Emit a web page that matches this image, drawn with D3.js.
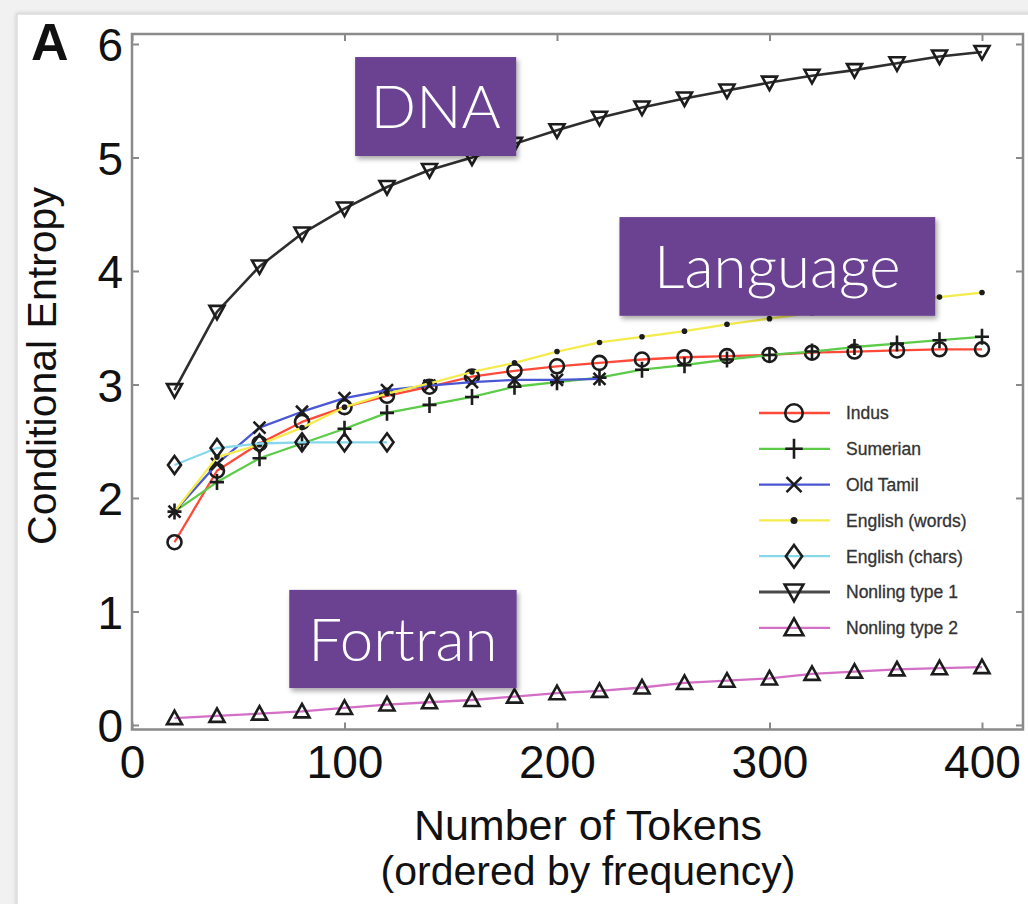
<!DOCTYPE html>
<html>
<head>
<meta charset="utf-8">
<script src="https://cdn.jsdelivr.net/npm/d3@7"></script>
<style>
  html, body { margin: 0; padding: 0; background: #f1f1f1; }
  svg { display: block; }
</style>
</head>
<body>
<svg id="chart" width="1028" height="904"></svg>
<script>
// Token counts along the x axis (ordered by frequency)
const tokens = [20, 40, 60, 80, 100, 120, 140, 160, 180, 200, 220, 240, 260, 280, 300, 320, 340, 360, 380, 400];

// Conditional entropy per series
const indus        = [1.61, 2.24, 2.48, 2.67, 2.80, 2.90, 2.98, 3.07, 3.12, 3.16, 3.19, 3.22, 3.24, 3.25, 3.26, 3.28, 3.29, 3.30, 3.31, 3.31];
const sumerian     = [1.88, 2.14, 2.35, 2.48, 2.61, 2.75, 2.82, 2.89, 2.98, 3.02, 3.06, 3.13, 3.17, 3.22, 3.26, 3.29, 3.33, 3.36, 3.39, 3.42];
const oldTamil     = [1.88, 2.30, 2.62, 2.76, 2.88, 2.95, 2.99, 3.02, 3.04, 3.04, 3.05];
const englishWords = [1.88, 2.36, 2.47, 2.62, 2.80, 2.92, 3.01, 3.11, 3.19, 3.29, 3.37, 3.42, 3.47, 3.53, 3.58, 3.63, 3.68, 3.73, 3.77, 3.81];
const englishChars = [2.29, 2.44, 2.48, 2.49, 2.49, 2.49];
const nonling1     = [2.95, 3.64, 4.04, 4.33, 4.55, 4.74, 4.89, 5.00, 5.12, 5.24, 5.35, 5.44, 5.52, 5.59, 5.66, 5.72, 5.77, 5.83, 5.89, 5.93];
const nonling2     = [0.06, 0.08, 0.10, 0.12, 0.15, 0.18, 0.20, 0.22, 0.25, 0.28, 0.30, 0.33, 0.37, 0.39, 0.41, 0.45, 0.47, 0.49, 0.50, 0.51];

const seriesNames = ["Indus", "Sumerian", "Old Tamil", "English (words)", "English (chars)", "Nonling type 1", "Nonling type 2"];
const seriesValues = [indus, sumerian, oldTamil, englishWords, englishChars, nonling1, nonling2];

const xTicks = [0, 100, 200, 300, 400];
const yTicks = [0, 1, 2, 3, 4, 5, 6];

// Callout boxes (data coordinates: x0, x1, yTop, yBottom)
const calloutText = ["DNA", "Language", "Fortran"];
const calloutX0   = [105, 229.4, 74];
const calloutX1   = [180.8, 378, 181];
const calloutY0   = [5.885, 4.475, 1.19];
const calloutY1   = [5.013, 3.605, 0.325];

// ---- styling ----
const colors  = ["#ff4a3a", "#5ccc48", "#4a56d4", "#f4ec4c", "#86d8ea", "#2e2e2e", "#d36fc6"];
const markers = ["circle", "plus", "x", "dot", "diamond", "tridown", "triup"];

const svg = d3.select("#chart");
const W = 1028, H = 904;
const plotLeft = 132, plotRight = 1023, plotTop = 34, plotBottom = 729.5;

const defs = svg.append("defs");
const cardShadow = defs.append("filter").attr("id", "cardShadow")
  .attr("x", "-5%").attr("y", "-5%").attr("width", "110%").attr("height", "110%");
cardShadow.append("feDropShadow").attr("dx", 0).attr("dy", 0).attr("stdDeviation", 2)
  .attr("flood-color", "#000").attr("flood-opacity", 0.18);
const boxShadow = defs.append("filter").attr("id", "boxShadow")
  .attr("x", "-10%").attr("y", "-10%").attr("width", "125%").attr("height", "130%");
boxShadow.append("feDropShadow").attr("dx", 2).attr("dy", 3).attr("stdDeviation", 2.5)
  .attr("flood-color", "#000").attr("flood-opacity", 0.35);

// white card
svg.append("rect").attr("x", 17).attr("y", 14).attr("width", W).attr("height", H)
  .attr("fill", "#fff").attr("stroke", "#dcdcdc").attr("stroke-width", 1.5)
  .attr("filter", "url(#cardShadow)");

const x = d3.scaleLinear().domain([0, 419.3]).range([plotLeft, plotRight]);
const y = d3.scaleLinear().domain([-0.04, 6.088]).range([plotBottom, plotTop]);

const axisColor = "#8a8a8a";
const tickFont = "'Liberation Sans', Arial, Helvetica, sans-serif";

// axes: box with inward ticks on every side
function styleAxis(g, hideText) {
  g.select(".domain").remove();
  g.selectAll(".tick line").attr("stroke", axisColor).attr("stroke-width", 2);
  if (hideText) g.selectAll(".tick text").remove();
}
svg.append("g").attr("transform", `translate(0,${plotBottom})`)
  .call(d3.axisBottom(x).tickValues(xTicks).tickSize(-7).tickFormat(d3.format("d")))
  .call(g => {
    styleAxis(g, false);
    g.selectAll(".tick text").attr("font-family", tickFont).attr("font-size", 46)
      .attr("fill", "#111").attr("dy", "0.71em").attr("y", 16);
  });
svg.append("g").attr("transform", `translate(0,${plotTop})`)
  .call(d3.axisTop(x).tickValues(xTicks).tickSize(-7))
  .call(g => styleAxis(g, true));
svg.append("g").attr("transform", `translate(${plotLeft},0)`)
  .call(d3.axisLeft(y).tickValues(yTicks).tickSize(-7).tickFormat(d3.format("d")))
  .call(g => {
    styleAxis(g, false);
    g.selectAll(".tick text").attr("font-family", tickFont).attr("font-size", 46)
      .attr("fill", "#111").attr("x", -9).attr("dy", "0.36em");
  });
svg.append("g").attr("transform", `translate(${plotRight},0)`)
  .call(d3.axisRight(y).tickValues(yTicks).tickSize(-7))
  .call(g => styleAxis(g, true));

svg.append("rect").attr("x", plotLeft).attr("y", plotTop)
  .attr("width", plotRight - plotLeft).attr("height", plotBottom - plotTop)
  .attr("fill", "none").attr("stroke", axisColor).attr("stroke-width", 2.5);

// marker shapes
function markerPath(type) {
  switch (type) {
    case "plus":    return "M-7,0H7M0,-8V8";
    case "x":       return "M-6,-6L6,6M-6,6L6,-6";
    case "diamond": return "M0,-9L6.5,0L0,9L-6.5,0Z";
    case "tridown": return "M-7.5,-6L7.5,-6L0,7.5Z";
    case "triup":   return "M-7.5,6L7.5,6L0,-7.5Z";
    default:        return null;
  }
}
const markerStroke = "#1c1c1c";
function drawMarker(g, type, scale) {
  const s = scale || 1;
  if (type === "circle") {
    g.append("circle").attr("r", 7 * s).attr("fill", "none")
      .attr("stroke", markerStroke).attr("stroke-width", 2.6);
  } else if (type === "dot") {
    g.append("circle").attr("r", 2.8 * s).attr("fill", markerStroke);
  } else {
    g.append("path").attr("d", markerPath(type))
      .attr("transform", `scale(${s})`)
      .attr("fill", "none").attr("stroke", markerStroke)
      .attr("stroke-width", 2.6 / s).attr("stroke-linejoin", "miter");
  }
}

const line = d3.line().x(d => x(d[0])).y(d => y(d[1]));
const plot = svg.append("g");

seriesValues.forEach((vals, i) => {
  const pts = vals.map((v, k) => [tokens[k], v]);
  plot.append("path").datum(pts).attr("d", line)
    .attr("fill", "none").attr("stroke", colors[i])
    .attr("stroke-width", i === 5 ? 2.6 : 2.3).attr("stroke-linejoin", "round");
  const mg = plot.append("g");
  pts.forEach(p => {
    const g = mg.append("g").attr("transform", `translate(${x(p[0])},${y(p[1])})`);
    drawMarker(g, markers[i]);
  });
});

// legend
const legend = svg.append("g");
const legendX0 = 759, legendX1 = 830, legendMark = 794, legendText = 846;
const legendY0 = 413, legendStep = 35.8;
seriesNames.forEach((name, i) => {
  const yy = legendY0 + i * legendStep;
  legend.append("line").attr("x1", legendX0).attr("x2", legendX1)
    .attr("y1", yy).attr("y2", yy)
    .attr("stroke", i === 5 ? "#4a4a4a" : colors[i]).attr("stroke-width", i === 5 ? 3.2 : 2.3);
  const g = legend.append("g").attr("transform", `translate(${legendMark},${yy})`);
  drawMarker(g, markers[i], 1.25);
  legend.append("text").attr("x", legendText).attr("y", yy).attr("dy", "0.36em")
    .attr("font-family", tickFont).attr("font-size", 17.5).attr("fill", "#333")
    .attr("stroke", "#333").attr("stroke-width", 0.3)
    .text(name);
});

// axis titles and panel letter
svg.append("text").attr("x", 588).attr("y", 840).attr("text-anchor", "middle")
  .attr("font-family", tickFont).attr("font-size", 43).attr("fill", "#111")
  .text("Number of Tokens");
svg.append("text").attr("x", 588).attr("y", 885).attr("text-anchor", "middle")
  .attr("font-family", tickFont).attr("font-size", 41).attr("fill", "#111")
  .text("(ordered by frequency)");
svg.append("text").attr("transform", "translate(56,366) rotate(-90)")
  .attr("text-anchor", "middle")
  .attr("font-family", tickFont).attr("font-size", 41).attr("fill", "#111")
  .text("Conditional Entropy");
svg.append("text").attr("x", 31).attr("y", 60)
  .attr("font-family", tickFont).attr("font-size", 52).attr("font-weight", "bold")
  .attr("fill", "#111").text("A");

// callout boxes
calloutText.forEach((t, i) => {
  const bx = x(calloutX0[i]), bw = x(calloutX1[i]) - x(calloutX0[i]);
  const by = y(calloutY0[i]), bh = y(calloutY1[i]) - y(calloutY0[i]);
  svg.append("rect").attr("x", bx).attr("y", by).attr("width", bw).attr("height", bh)
    .attr("fill", "#6b4291").attr("filter", "url(#boxShadow)");
  svg.append("text").attr("x", bx + bw / 2).attr("y", by + bh / 2).attr("dy", "0.36em")
    .attr("text-anchor", "middle")
    .attr("font-family", "Lato, 'Open Sans', 'Noto Sans', sans-serif")
    .attr("font-weight", 300).attr("font-size", 60).attr("fill", "#fff")
    .text(t);
});
</script>
</body>
</html>
